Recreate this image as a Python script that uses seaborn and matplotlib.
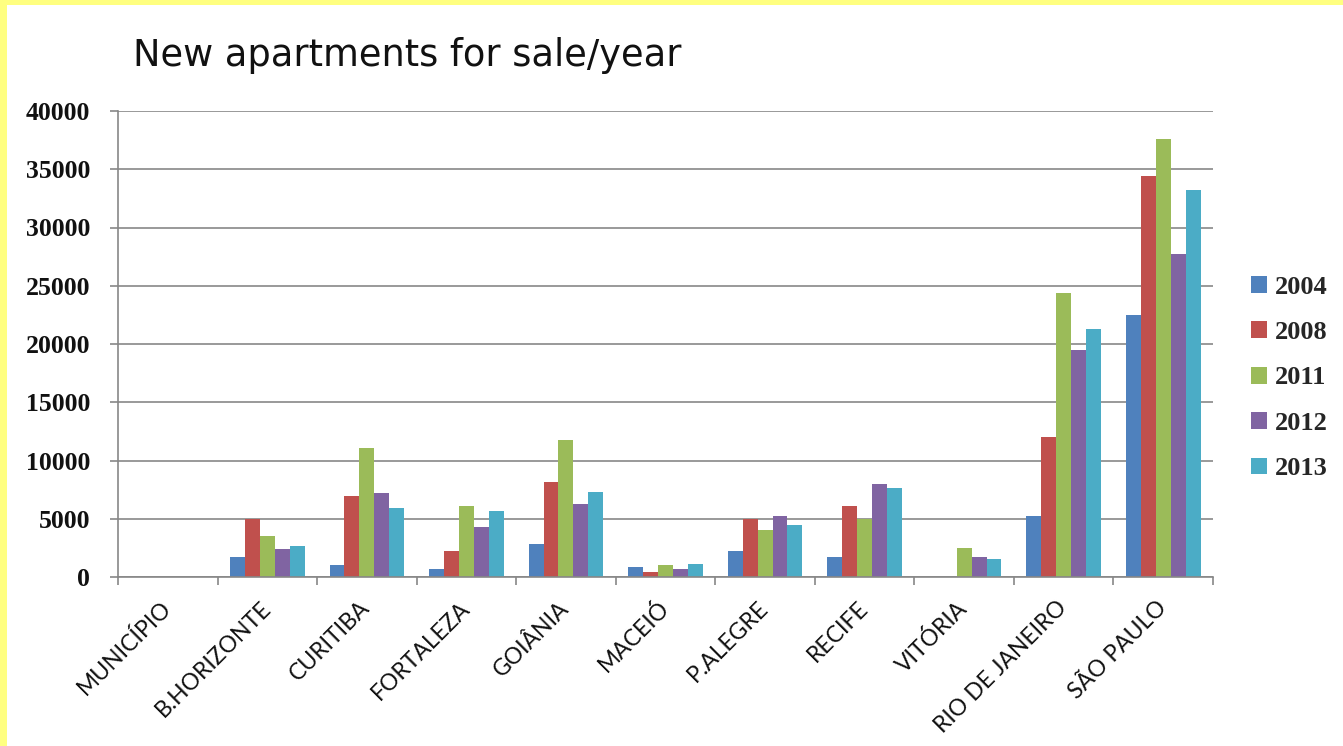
import numpy as np
import pandas as pd
import matplotlib
matplotlib.use("Agg")
import matplotlib.pyplot as plt
from matplotlib.patches import Rectangle
from matplotlib.ticker import FixedLocator
import seaborn as sns

cities = ["MUNICÍPIO", "B.HORIZONTE", "CURITIBA", "FORTALEZA", "GOIÂNIA", "MACEIÓ",
          "P.ALEGRE", "RECIFE", "VITÓRIA", "RIO DE JANEIRO", "SÃO PAULO"]
years = ["2004", "2008", "2011", "2012", "2013"]

v2004 = [0, 1700, 1000, 700, 2800, 830, 2230, 1680, 0, 5260, 22450]
v2008 = [0, 5000, 6920, 2230, 8120, 450, 5000, 6100, 0, 12000, 34400]
v2011 = [0, 3500, 11070, 6120, 11730, 1030, 4000, 5000, 2500, 24400, 37600]
v2012 = [0, 2380, 7180, 4320, 6230, 710, 5260, 8020, 1680, 19450, 27700]
v2013 = [0, 2660, 5950, 5670, 7320, 1140, 4460, 7620, 1540, 21250, 33200]

colors = ["#4F81BD", "#C0504D", "#9BBB59", "#8064A2", "#4BACC6"]
yticks = [0, 5000, 10000, 15000, 20000, 25000, 30000, 35000, 40000]

series = [v2004, v2008, v2011, v2012, v2013]
df = pd.DataFrame({
    "city": np.tile(cities, len(years)),
    "year": np.repeat(years, len(cities)),
    "units": np.concatenate(series),
})

sns.set_theme(style="white")
plt.rcParams["font.family"] = ["DejaVu Sans"]

W, H = 1343, 746
fig = plt.figure(figsize=(W / 100, H / 100), dpi=100)
fig.patch.set_facecolor("white")

# yellow frame strips along the top and left edges
fig.patches.append(Rectangle((0, 0), 7 / W, 1, transform=fig.transFigure,
                             facecolor="#FFFF80", edgecolor="none", zorder=0))
fig.patches.append(Rectangle((0, 1 - 5 / H), 1, 5 / H, transform=fig.transFigure,
                             facecolor="#FFFF80", edgecolor="none", zorder=0))

ax = fig.add_axes([118 / W, 1 - 577 / H, (1213 - 118) / W, (577 - 111) / H])

sns.barplot(data=df, x="city", y="units", hue="year", palette=colors,
            width=0.75, saturation=1, errorbar=None, linewidth=0, ax=ax)

grid_c = "#878787"
ax.set_xlim(-0.5, len(cities) - 0.5)
ax.set_ylim(0, 40000)
ax.set_yticks(yticks)
ax.set_yticklabels([str(t) for t in yticks], family="Liberation Serif",
                   fontweight="bold", fontsize=18.5, color="#111111")
ax.yaxis.grid(True, color=grid_c, linewidth=1.2)
ax.set_axisbelow(True)

for s in ["top", "right"]:
    ax.spines[s].set_visible(False)
for s in ["left", "bottom"]:
    ax.spines[s].set_color(grid_c)
    ax.spines[s].set_linewidth(1.2)

ax.tick_params(axis="y", which="major", left=True, length=6, width=1.2,
               color=grid_c, pad=14)
ax.set_xticks(range(len(cities)))
ax.set_xticklabels(cities, family="Lato", fontsize=16.5, rotation=45,
                   ha="right", va="center", rotation_mode="anchor", color="#111111")
ax.tick_params(axis="x", which="major", bottom=True, length=0, pad=20)
ax.xaxis.set_minor_locator(FixedLocator(np.arange(-0.5, len(cities), 1.0)))
ax.tick_params(axis="x", which="minor", bottom=True, length=6, width=1.2,
               color=grid_c)

ax.set_xlabel("")
ax.set_ylabel("")

handles, labels = ax.get_legend_handles_labels()
ax.legend_.remove()
fig.legend(handles, labels, loc="center left",
           bbox_to_anchor=(1251 / W, 1 - 378 / H), frameon=False,
           prop={"family": "Liberation Serif", "weight": "bold", "size": 19},
           handlelength=0.6, handleheight=0.6, handletextpad=0.3,
           labelspacing=0.85, borderpad=0, borderaxespad=0)

fig.text(133 / W, 1 - 55 / H, "New apartments for sale/year", fontsize=26.5,
         family="DejaVu Sans", color="#111111", va="center", ha="left")

fig.savefig("out.png", dpi=100, facecolor="white")
